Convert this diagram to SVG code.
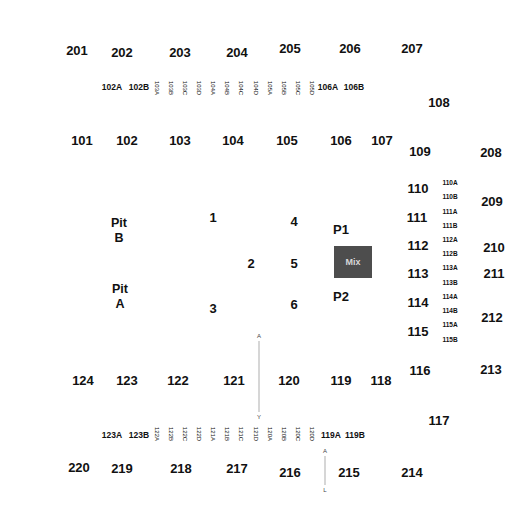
<svg xmlns="http://www.w3.org/2000/svg" width="525" height="525" viewBox="0 0 525 525">
<style>
text{font-family:"Liberation Sans",Arial,sans-serif;fill:#111;text-anchor:middle;dominant-baseline:central;font-weight:bold}
.L{font-size:13px}
.P{font-size:12.5px}
.M{font-size:8.5px}
.S{font-size:6.5px}
.R{font-size:6px;font-weight:normal}
.T{font-size:6px;font-weight:normal;fill:#444}
.line{stroke:#c8c8c8;stroke-width:1.5}
</style>
<rect width="525" height="525" fill="#fff"/>
<g id="sections-upper">
<text class="L" x="77" y="50">201</text>
<text class="L" x="122" y="52">202</text>
<text class="L" x="180" y="52">203</text>
<text class="L" x="237" y="52">204</text>
<text class="L" x="290" y="48">205</text>
<text class="L" x="350" y="48">206</text>
<text class="L" x="412" y="48">207</text>
<text class="L" x="439" y="102">108</text>
<text class="L" x="82" y="140">101</text>
<text class="L" x="127" y="140">102</text>
<text class="L" x="180" y="140">103</text>
<text class="L" x="233" y="140">104</text>
<text class="L" x="287" y="140">105</text>
<text class="L" x="341" y="140">106</text>
<text class="L" x="382" y="140">107</text>
<text class="L" x="420" y="151">109</text>
<text class="L" x="491" y="152">208</text>
</g>
<g id="sublabels-top">
<text class="M" x="112" y="87">102A</text>
<text class="M" x="139" y="87">102B</text>
<text class="R" transform="translate(157,88) rotate(90)">103A</text>
<text class="R" transform="translate(171,88) rotate(90)">103B</text>
<text class="R" transform="translate(185,88) rotate(90)">103C</text>
<text class="R" transform="translate(199,88) rotate(90)">103D</text>
<text class="R" transform="translate(213,88) rotate(90)">104A</text>
<text class="R" transform="translate(227,88) rotate(90)">104B</text>
<text class="R" transform="translate(241,88) rotate(90)">104C</text>
<text class="R" transform="translate(256,88) rotate(90)">104D</text>
<text class="R" transform="translate(270,88) rotate(90)">105A</text>
<text class="R" transform="translate(284,88) rotate(90)">105B</text>
<text class="R" transform="translate(298,88) rotate(90)">105C</text>
<text class="R" transform="translate(312,88) rotate(90)">105D</text>
<text class="M" x="328" y="87">106A</text>
<text class="M" x="354" y="87">106B</text>
</g>
<g id="sections-right">
<text class="L" x="418" y="188">110</text>
<text class="L" x="417" y="217">111</text>
<text class="L" x="418" y="245">112</text>
<text class="L" x="418" y="273">113</text>
<text class="L" x="418" y="302">114</text>
<text class="L" x="418" y="331">115</text>
<text class="S" x="450" y="182">110A</text>
<text class="S" x="450" y="196">110B</text>
<text class="S" x="450" y="211">111A</text>
<text class="S" x="450" y="225">111B</text>
<text class="S" x="450" y="239">112A</text>
<text class="S" x="450" y="253">112B</text>
<text class="S" x="450" y="267">113A</text>
<text class="S" x="450" y="282">113B</text>
<text class="S" x="450" y="296">114A</text>
<text class="S" x="450" y="310">114B</text>
<text class="S" x="450" y="324">115A</text>
<text class="S" x="450" y="339">115B</text>
<text class="L" x="492" y="201">209</text>
<text class="L" x="494" y="247">210</text>
<text class="L" x="494" y="273">211</text>
<text class="L" x="492" y="317">212</text>
</g>
<g id="floor">
<text class="P" x="119" y="223">Pit</text>
<text class="P" x="119" y="238">B</text>
<text class="P" x="120" y="289">Pit</text>
<text class="P" x="120" y="304">A</text>
<text class="L" x="213" y="217">1</text>
<text class="L" x="294" y="221">4</text>
<text class="L" x="341" y="229">P1</text>
<text class="L" x="251" y="263">2</text>
<text class="L" x="294" y="263">5</text>
<text class="L" x="213" y="308">3</text>
<text class="L" x="294" y="304">6</text>
<text class="L" x="341" y="296">P2</text>
</g>
<g id="mix">
<rect x="334" y="246" width="38" height="32" fill="#4d4d4d"/>
<text x="353" y="262" style="font-size:9px;fill:#d8d8d8">Mix</text>
</g>
<g id="sections-lower">
<text class="L" x="83" y="380">124</text>
<text class="L" x="127" y="380">123</text>
<text class="L" x="178" y="380">122</text>
<text class="L" x="234" y="380">121</text>
<text class="L" x="289" y="380">120</text>
<text class="L" x="341" y="380">119</text>
<text class="L" x="381" y="380">118</text>
<text class="L" x="420" y="370">116</text>
<text class="L" x="491" y="369">213</text>
<text class="L" x="439" y="420">117</text>
<text class="L" x="79" y="467">220</text>
<text class="L" x="122" y="468">219</text>
<text class="L" x="181" y="468">218</text>
<text class="L" x="237" y="468">217</text>
<text class="L" x="290" y="472">216</text>
<text class="L" x="349" y="472">215</text>
<text class="L" x="412" y="472">214</text>
</g>
<g id="sublabels-bottom">
<text class="M" x="112" y="435">123A</text>
<text class="M" x="139" y="435">123B</text>
<text class="R" transform="translate(157,434) rotate(90)">122A</text>
<text class="R" transform="translate(171,434) rotate(90)">122B</text>
<text class="R" transform="translate(185,434) rotate(90)">122C</text>
<text class="R" transform="translate(199,434) rotate(90)">122D</text>
<text class="R" transform="translate(213,434) rotate(90)">121A</text>
<text class="R" transform="translate(227,434) rotate(90)">121B</text>
<text class="R" transform="translate(241,434) rotate(90)">121C</text>
<text class="R" transform="translate(256,434) rotate(90)">121D</text>
<text class="R" transform="translate(270,434) rotate(90)">120A</text>
<text class="R" transform="translate(284,434) rotate(90)">120B</text>
<text class="R" transform="translate(298,434) rotate(90)">120C</text>
<text class="R" transform="translate(312,434) rotate(90)">120D</text>
<text class="M" x="331" y="435">119A</text>
<text class="M" x="355" y="435">119B</text>
</g>
<g id="connectors">
<line class="line" x1="259" y1="341" x2="259" y2="412"/>
<line class="line" x1="325" y1="456" x2="325" y2="485"/>
</g>
<g id="line-labels">
<text class="T" x="259" y="336">A</text>
<text class="T" x="259" y="417">Y</text>
<text class="T" x="325" y="451">A</text>
<text class="T" x="325" y="490">L</text>
</g>
</svg>
